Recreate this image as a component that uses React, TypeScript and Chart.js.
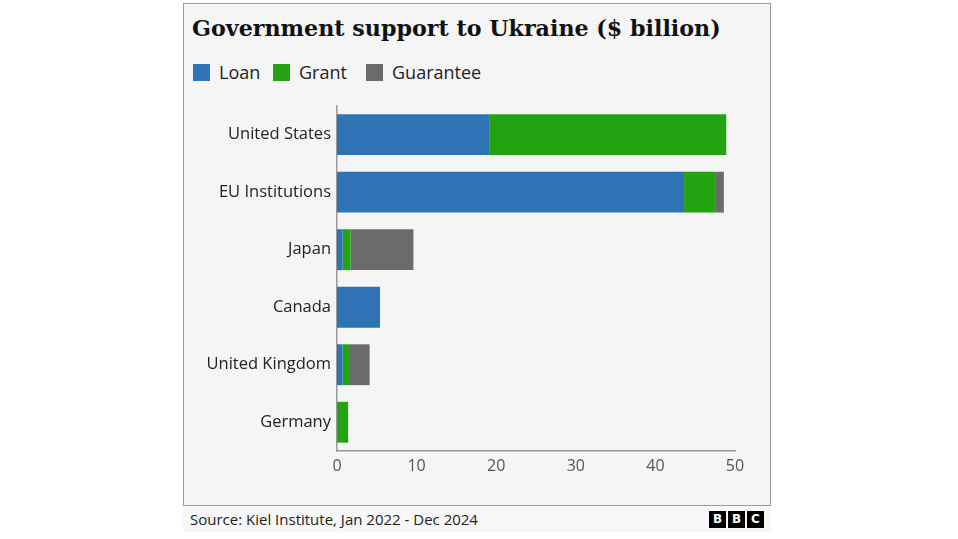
import React, { useEffect, useRef } from "react";
import { Chart, registerables } from "chart.js";

Chart.register(...registerables);

const categories = ["United States", "EU Institutions", "Japan", "Canada", "United Kingdom", "Germany"];
const loanValues = [19.2, 43.6, 0.7, 5.4, 0.7, 0.1];
const grantValues = [29.7, 4.0, 1.0, 0, 0.8, 1.3];
const guaranteeValues = [0, 1.0, 7.9, 0, 2.6, 0];
const seriesNames = ["Loan", "Grant", "Guarantee"];
const seriesColors = ["#2e74b5", "#23a312", "#6b6b6b"];
const xTicks = [0, 10, 20, 30, 40, 50];

const SANS = "'Open Sans', 'Noto Sans', sans-serif";

export default function App() {
  const ref = useRef<HTMLCanvasElement | null>(null);

  useEffect(() => {
    if (!ref.current) return;
    const chart = new Chart(ref.current, {
      type: "bar",
      data: {
        labels: categories,
        datasets: [loanValues, grantValues, guaranteeValues].map((d, i) => ({
          label: seriesNames[i],
          data: d,
          backgroundColor: seriesColors[i],
          borderWidth: 0,
          categoryPercentage: 1,
          barPercentage: 0.71,
        })),
      },
      options: {
        indexAxis: "y",
        animation: false,
        responsive: false,
        maintainAspectRatio: false,
        layout: { padding: { top: 4, right: 25, left: 0, bottom: 0 } },
        plugins: { legend: { display: false }, tooltip: { enabled: false }, title: { display: false } },
        scales: {
          x: {
            stacked: true,
            min: 0,
            max: 50,
            afterBuildTicks: (s: any) => {
              s.ticks = xTicks.map((v) => ({ value: v }));
            },
            afterFit: (s: any) => {
              s.height = 30;
            },
            grid: { display: false, drawTicks: false },
            border: { display: true, color: "#9a9a9a", width: 1.5 },
            ticks: { color: "#555", font: { family: SANS, size: 16 }, padding: 6 },
          },
          y: {
            stacked: true,
            afterFit: (s: any) => {
              s.width = 147;
            },
            grid: { display: false, drawTicks: false },
            border: { display: true, color: "#9a9a9a", width: 1.5 },
            ticks: { color: "#222", font: { family: SANS, size: 16.5 }, padding: 6 },
          },
        },
      },
    });
    return () => chart.destroy();
  }, []);

  const legendItem = (name: string, color: string, left: number) => (
    <div key={name} style={{ position: "absolute", left, top: 64, display: "flex", alignItems: "center" }}>
      <div style={{ width: 17, height: 17, background: color, marginRight: 9 }} />
      <span style={{ fontFamily: SANS, fontSize: 18, color: "#222", lineHeight: "17px" }}>{name}</span>
    </div>
  );

  const bbcBox = (letter: string, left: number) => (
    <div
      key={left}
      style={{
        position: "absolute",
        left,
        top: 511,
        width: 17,
        height: 17,
        background: "#000",
        color: "#fff",
        fontFamily: "'DejaVu Sans', sans-serif",
        fontWeight: 700,
        fontSize: 12,
        lineHeight: "17px",
        textAlign: "center",
      }}
    >
      {letter}
    </div>
  );

  return (
    <div style={{ position: "fixed", left: 0, top: 0, width: 958, height: 539, background: "#fff", overflow: "hidden" }}>
      <div
        style={{
          position: "absolute",
          left: 183,
          top: 3,
          width: 588,
          height: 503,
          background: "#f5f5f5",
          border: "1.5px solid #9a9a9a",
          boxSizing: "border-box",
        }}
      />
      <div
        style={{
          position: "absolute",
          left: 183,
          top: 506,
          width: 588,
          height: 26,
          background: "#f7f7f7",
        }}
      />
      <div
        style={{
          position: "absolute",
          left: 192,
          top: 11,
          fontFamily: "'DejaVu Serif', serif",
          fontWeight: 700,
          fontSize: 22.2,
          color: "#111",
          whiteSpace: "nowrap",
          lineHeight: "34px",
        }}
      >
        Government support to Ukraine ($ billion)
      </div>
      {legendItem(seriesNames[0], seriesColors[0], 193)}
      {legendItem(seriesNames[1], seriesColors[1], 273)}
      {legendItem(seriesNames[2], seriesColors[2], 366)}
      <canvas ref={ref} width={570} height={391} style={{ position: "absolute", left: 190, top: 90 }} />
      <div
        style={{
          position: "absolute",
          left: 190,
          top: 509,
          fontFamily: SANS,
          fontSize: 15,
          color: "#222",
          whiteSpace: "nowrap",
          lineHeight: "20px",
        }}
      >
        Source: Kiel Institute, Jan 2022 - Dec 2024
      </div>
      {bbcBox("B", 709)}
      {bbcBox("B", 728)}
      {bbcBox("C", 747)}
    </div>
  );
}
